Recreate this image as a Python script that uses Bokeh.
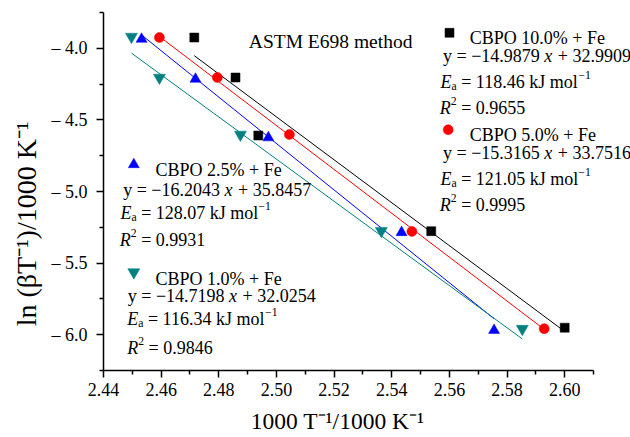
import math
from bokeh.plotting import figure
from bokeh.models import Range1d, FixedTicker, CustomJSTickFormatter, Label
from bokeh.embed import file_html
from bokeh.resources import INLINE

# ---------------- data ----------------
x_10 = [2.4715, 2.4858, 2.4937, 2.5537, 2.6000]
y_10 = [-3.925, -4.204, -4.609, -5.277, -5.951]
x_5 = [2.4594, 2.4795, 2.5045, 2.5470, 2.5929]
y_5 = [-3.925, -4.204, -4.602, -5.279, -5.958]
x_25 = [2.4532, 2.4719, 2.4972, 2.5434, 2.5755]
y_25 = [-3.936, -4.215, -4.624, -5.286, -5.969]
x_1 = [2.4497, 2.4594, 2.4875, 2.5364, 2.5853]
y_1 = [-3.919, -4.205, -4.603, -5.275, -5.959]

series_names = ["CBPO 10.0% + Fe", "CBPO 5.0% + Fe", "CBPO 2.5% + Fe", "CBPO 1.0% + Fe"]
slopes = [-14.9879, -15.3165, -16.2043, -14.7198]
intercepts = [32.9909, 33.7516, 35.8457, 32.0254]
ea_values = ["118.46", "121.05", "128.07", "116.34"]
r2_values = ["0.9655", "0.9995", "0.9931", "0.9846"]

x_major = [2.44, 2.46, 2.48, 2.50, 2.52, 2.54, 2.56, 2.58, 2.60]
x_minor = [2.45, 2.47, 2.49, 2.51, 2.53, 2.55, 2.57, 2.59, 2.61]
y_major = [-6.0, -5.5, -5.0, -4.5, -4.0]
y_minor = [-6.25, -5.75, -5.25, -4.75, -4.25, -3.75]
x_title = "1000 T\u207b\u00b9/1000 K\u207b\u00b9"
y_title = "ln (\u03b2T\u207b\u00b9)/1000 K\u207b\u00b9"

# ---------------- layout ----------------
W, H = 630, 437
AX_X0, AX_X1 = 2.44, 2.61          # axis extent
AX_Y0, AX_Y1 = -6.25, -3.75
L, B = 103, 67                      # left / bottom borders (px)
AX_RIGHT_PX, AX_TOP_PX = 593, 12    # where the axes end
FW, FH = W - L, H - B
PX_X = (AX_RIGHT_PX - L) / (AX_X1 - AX_X0)
PX_Y = (FH - AX_TOP_PX) / (AX_Y1 - AX_Y0)
X0 = AX_X0
X1 = AX_X0 + FW / PX_X
Y0 = AX_Y0
Y1 = AX_Y0 + FH / PX_Y

def X(px):
    return X0 + (px - L) / PX_X

def Y(py):
    return Y1 - py / PX_Y

p = figure(width=W, height=H, output_backend="svg", toolbar_location=None,
           x_range=Range1d(X0, X1), y_range=Range1d(Y0, Y1))
p.min_border_left = L
p.min_border_right = 0
p.min_border_top = 0
p.min_border_bottom = B
p.outline_line_color = None
p.xgrid.visible = False
p.ygrid.visible = False
p.background_fill_color = "white"
p.border_fill_color = "white"

p.xaxis.bounds = (AX_X0, AX_X1)
p.yaxis.bounds = (AX_Y0, AX_Y1)
p.xaxis.ticker = FixedTicker(ticks=x_major, minor_ticks=x_minor)
p.yaxis.ticker = FixedTicker(ticks=y_major, minor_ticks=y_minor)
p.xaxis.formatter = CustomJSTickFormatter(code="return tick.toFixed(2);")
p.yaxis.formatter = CustomJSTickFormatter(code="return '\u2013 ' + Math.abs(tick).toFixed(1);")
for ax in (p.xaxis[0], p.yaxis[0]):
    ax.axis_line_color = "black"
    ax.axis_line_width = 1.5
    ax.major_tick_line_color = "black"
    ax.major_tick_line_width = 1.5
    ax.minor_tick_line_color = "black"
    ax.minor_tick_line_width = 1.5
    ax.major_tick_in = 0
    ax.major_tick_out = 7
    ax.minor_tick_in = 0
    ax.minor_tick_out = 4
    ax.major_label_text_font = "Liberation Serif"
    ax.major_label_text_font_size = "18px"
    ax.major_label_text_color = "black"
    ax.axis_label_text_font = "Liberation Serif"
    ax.axis_label_text_font_style = "normal"
    ax.axis_label_text_color = "black"
p.xaxis.major_label_standoff = 5
p.yaxis.major_label_standoff = 9
# axis titles are centred on the frame; trailing no-break spaces shift them
# to where the reference shows them
NB = "\u00a0"
p.xaxis.axis_label = x_title + NB * 10
p.yaxis.axis_label = y_title + NB * 11
p.xaxis.axis_label_text_font_size = "23.5px"
p.yaxis.axis_label_text_font_size = "28px"
p.xaxis.axis_label_standoff = 9
p.yaxis.axis_label_standoff = 7

# ---------------- fit lines and points ----------------
colors = ["#000000", "#FF0000", "#0000FF", "#008080"]
xs_all = [x_10, x_5, x_25, x_1]
ys_all = [y_10, y_5, y_25, y_1]
for xs, m, b, c in zip(xs_all, slopes, intercepts, colors):
    xa, xb = min(xs), max(xs)
    p.line([xa, xb], [m * xa + b, m * xb + b], line_color=c, line_width=1)

markers = ["square", "circle", "triangle", "inverted_triangle"]
sizes = [9, 10, 11, 12]
for xs, ys, c, mk, s in zip(xs_all, ys_all, colors, markers, sizes):
    p.scatter(xs, ys, marker=mk, size=s, fill_color=c, line_color=c, line_width=0.5)

# ---------------- rich text helper ----------------
W_N = {' ': 250, '\u00a0': 250, '%': 833, '+': 564, '.': 250, '/': 278, '=': 564,
       '(': 333, ')': 333, '\u2212': 564, '\u2013': 500,
       'A': 722, 'B': 667, 'C': 667, 'D': 722, 'E': 611, 'F': 556, 'J': 389, 'K': 722,
       'M': 889, 'O': 722, 'P': 556, 'R': 667, 'S': 556, 'T': 611,
       'a': 444, 'd': 500, 'e': 444, 'h': 500, 'k': 500, 'l': 278, 'm': 778, 'n': 500,
       'o': 500, 't': 278, 'x': 500, 'y': 500}
for d in "0123456789":
    W_N[d] = 500
W_I = {'E': 611, 'R': 611, 'x': 500}

FONT = "Liberation Serif"

def tw(s, italic, size):
    tot = 0
    for ch in s:
        if italic and ch in W_I:
            tot += W_I[ch]
        else:
            tot += W_N.get(ch, 500)
    return tot * size / 1000.0

def keep_spaces(s):
    # leading / trailing blanks would be collapsed in SVG text
    n_lead = len(s) - len(s.lstrip(" "))
    n_trail = len(s) - len(s.rstrip(" "))
    core = s.strip(" ")
    return NB * n_lead + core + NB * n_trail

def rich(px, py, segs, size=18):
    pos = 0.0
    for txt, kind in segs:
        small = kind in ("sub", "sup")
        fs = size * 0.65 if small else size
        italic = kind == "i"
        off = 0.0
        if kind == "sub":
            off = 0.25 * size
        elif kind == "sup":
            off = -0.38 * size
        p.add_layout(Label(x=X(px + pos), y=Y(py + off), text=keep_spaces(txt), text_font=FONT,
                           text_font_size=f"{fs:.1f}px",
                           text_font_style="italic" if italic else "normal",
                           text_color="black", text_baseline="alphabetic",
                           text_align="left"))
        pos += tw(txt, italic, fs)

def fmt_eq(m, b):
    return [("y = \u2212" + f"{abs(m):.4f} ", "n"), ("x", "i"), (f" + {b:.4f}", "n")]

# title
rich(248.3, 40.7, [("ASTM E698 method", "n")], size=19.5)

# annotation blocks: (key px, key py, title x, title base, eq x, eq base, ea x, ea base, r2 x, r2 base)
blocks = [
    (449.0, 32.3, 469.3, 37.3, 442.5, 55.0, 440.0, 81.7, 439.3, 107.3),
    (447.7, 129.3, 469.3, 134.0, 442.5, 152.0, 440.0, 178.0, 439.3, 204.0),
    (133.3, 164.0, 155.0, 169.5, 122.7, 189.5, 120.0, 212.0, 119.3, 239.5),
    (133.3, 271.7, 155.0, 278.0, 127.3, 295.0, 126.7, 318.0, 126.7, 347.0),
]
for i, bl in enumerate(blocks):
    kx, ky, tx, tb, ex, eb, ax_, ab, rx, rb = bl
    p.scatter([X(kx)], [Y(ky)], marker=markers[i], size=sizes[i],
              fill_color=colors[i], line_color=colors[i], line_width=0.5)
    rich(tx, tb, [(series_names[i], "n")])
    rich(ex, eb, fmt_eq(slopes[i], intercepts[i]))
    rich(ax_, ab, [("E", "i"), ("a", "sub"), (f" = {ea_values[i]} kJ mol", "n"), ("\u22121", "sup")])
    rich(rx, rb, [("R", "i"), ("2", "sup"), (f" = {r2_values[i]}", "n")])

open("out.html", "w").write(file_html(p, INLINE))
